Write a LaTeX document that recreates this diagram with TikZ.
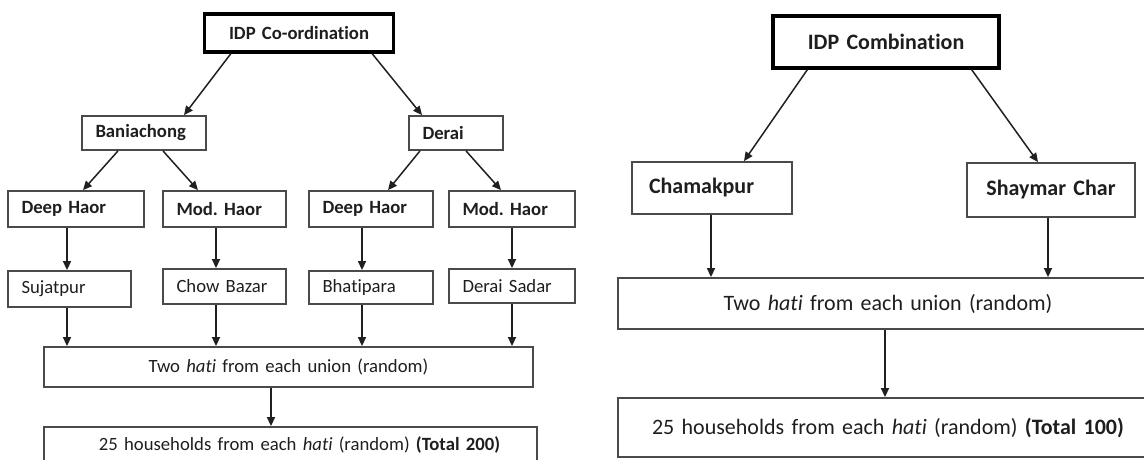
\documentclass[tikz,border=0pt]{standalone}
\usepackage{fontspec}
\setmainfont{Carlito}[Ligatures=NoCommon]
\usetikzlibrary{arrows.meta}
\definecolor{bordergray}{HTML}{4A4A4A}
\definecolor{txt}{HTML}{1E1E1E}
\definecolor{arrowc}{HTML}{202020}
\begin{document}
\begin{tikzpicture}[x=1pt,y=-1pt,
  box/.style={draw=bordergray, line width=1.8pt, inner xsep=13.5pt, inner ysep=0pt, text=txt, align=left},
  heavybox/.style={box, draw=black, line width=3.2pt, align=center},
  lreg/.style={font=\fontsize{18.7}{22}\selectfont},
  lbold/.style={font=\fontsize{18.7}{22}\selectfont\bfseries},
  rreg/.style={font=\fontsize{22}{26}\selectfont},
  rbold/.style={font=\fontsize{22}{26}\selectfont\bfseries},
  arr/.style={draw=arrowc, line width=1.5pt, -{Triangle[length=9pt,width=8pt]}}
]
\useasboundingbox (0,0) rectangle (1144,460);

% ---------------- left diagram ----------------
\node[heavybox, lbold, text width=162pt, minimum height=38pt] (idp1) at (299,33) {IDP Co-ordination};
\node[box, lbold, text width=97pt, minimum height=34pt] (ban) at (144,133) {Baniachong};
\node[box, lbold, text width=67pt, minimum height=34pt] (der) at (456,133) {Derai};
\node[box, lbold, text width=109pt, minimum height=36pt] (dh1) at (76,209) {Deep Haor};
\node[box, lbold, text width=96pt, minimum height=36pt] (mh1) at (224.5,209) {Mod.\ Haor};
\node[box, lbold, text width=97pt, minimum height=36pt] (dh2) at (371,209) {Deep Haor};
\node[box, lbold, text width=99pt, minimum height=36pt] (mh2) at (512,209) {Mod.\ Haor};
\node[box, lreg, text width=96pt, minimum height=36pt] (su) at (69.5,289) {Sujatpur};
\node[box, lreg, text width=96pt, minimum height=35pt] (cb) at (224.5,286.5) {Chow Bazar};
\node[box, lreg, text width=97pt, minimum height=33pt] (bh) at (371,287.5) {Bhatipara};
\node[box, lreg, text width=99pt, minimum height=34pt] (ds) at (512,286) {Derai Sadar};
\node[box, lreg, align=center, text width=462pt, minimum height=40pt] (th1) at (288.5,367) {Two \textit{hati} from each union (random)};
\node[box, lreg, align=center, text width=466pt, minimum height=36pt] (hh1) at (290.5,445) {\hspace*{18pt}25 households from each \textit{hati} (random) \textbf{(Total 200)}};

\coordinate (v1) at (67,0);
\coordinate (v2) at (216,0);
\coordinate (v3) at (362,0);
\coordinate (v4) at (512,0);
\coordinate (v5) at (271,0);

\draw[arr] ([xshift=28pt]idp1.south west) -- ([xshift=40pt]ban.north);
\draw[arr] ([xshift=-23pt]idp1.south east) -- ([xshift=-34pt]der.north);
\draw[arr] ([xshift=-26pt]ban.south) -- ([xshift=7pt]dh1.north);
\draw[arr] ([xshift=19pt]ban.south) -- ([xshift=-26.5pt]mh1.north);
\draw[arr] ([xshift=-36pt]der.south) -- ([xshift=17pt]dh2.north);
\draw[arr] ([xshift=10pt]der.south) -- ([xshift=-11pt]mh2.north);

\draw[arr] (dh1.south -| v1) -- (su.north -| v1);
\draw[arr] (mh1.south -| v2) -- (cb.north -| v2);
\draw[arr] (dh2.south -| v3) -- (bh.north -| v3);
\draw[arr] (mh2.south -| v4) -- (ds.north -| v4);
\draw[arr] (su.south -| v1) -- (th1.north -| v1);
\draw[arr] (cb.south -| v2) -- (th1.north -| v2);
\draw[arr] (bh.south -| v3) -- (th1.north -| v3);
\draw[arr] (ds.south -| v4) -- (th1.north -| v4);
\draw[arr] (th1.south -| v5) -- (hh1.north -| v5);

% ---------------- right diagram ----------------
\node[heavybox, rbold, text width=199pt, minimum height=52pt] (idp2) at (886,42) {IDP Combination};
\node[box, rbold, inner xsep=17pt, text width=126pt, minimum height=52pt] (cha) at (712,188) {Chamakpur};
\node[box, rbold, align=center, text width=141pt, minimum height=54pt] (sha) at (1051,190) {Shaymar Char};
\node[box, rreg, align=center, text width=513pt, minimum height=51pt] (th2) at (888,303.5) {Two \textit{hati} from each union (random)};
\node[box, rreg, align=center, text width=513pt, minimum height=59pt] (hh2) at (888,427.5) {25 households from each \textit{hati} (random) \textbf{(Total 100)}};

\coordinate (w1) at (711,0);
\coordinate (w2) at (1048,0);
\coordinate (w3) at (885,0);

\draw[arr] ([xshift=36pt]idp2.south west) -- ([xshift=32pt]cha.north);
\draw[arr] ([xshift=-29pt]idp2.south east) -- ([xshift=-13pt]sha.north);
\draw[arr] (cha.south -| w1) -- (th2.north -| w1);
\draw[arr] (sha.south -| w2) -- (th2.north -| w2);
\draw[arr] (th2.south -| w3) -- (hh2.north -| w3);
\end{tikzpicture}
\end{document}
